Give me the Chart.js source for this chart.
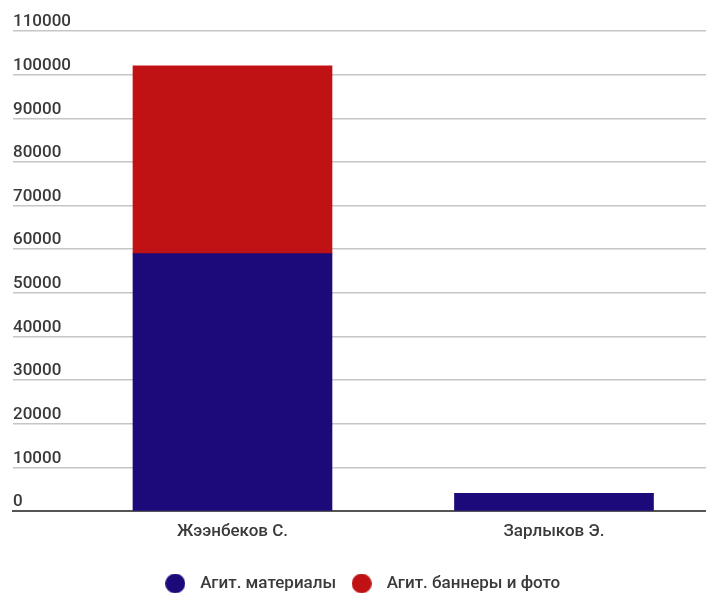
<!DOCTYPE html>
<html>
<head>
<meta charset="utf-8">
<script src="https://cdn.jsdelivr.net/npm/chart.js@4/dist/chart.umd.min.js"></script>
<style>
  html, body { margin: 0; padding: 0; background: #fff; overflow: hidden; }
  #wrap { position: relative; width: 706px; height: 593px; }
</style>
</head>
<body>
<div id="wrap"><canvas id="c"></canvas></div>
<script>
const categories = ['Жээнбеков С.', 'Зарлыков Э.'];
const seriesNames = ['Агит. материалы', 'Агит. баннеры и фото'];
const materials = [59000, 4100];
const banners = [43000, 0];
const yTicks = [0, 10000, 20000, 30000, 40000, 50000, 60000, 70000, 80000, 90000, 100000, 110000];
const colors = ['#1c0a7b', '#c01214'];

function dotCanvas(color) {
  const c = document.createElement('canvas');
  c.width = 20; c.height = 20;
  const g = c.getContext('2d');
  g.fillStyle = color;
  g.beginPath(); g.arc(10, 10, 10, 0, Math.PI * 2); g.fill();
  return c;
}
const dots = colors.map(dotCanvas);

const toPoints = arr => arr.map((v, i) => ({ x: i, y: v }));

const font = { family: 'Roboto', size: 17, weight: '500' };
const textColor = '#3a3a3a';

new Chart(document.getElementById('c'), {
  type: 'bar',
  data: {
    datasets: [
      { label: seriesNames[0], data: toPoints(materials), backgroundColor: colors[0], borderWidth: 0, barThickness: 199 },
      { label: seriesNames[1], data: toPoints(banners), backgroundColor: colors[1], borderWidth: 0, barThickness: 199 }
    ]
  },
  options: {
    responsive: true,
    maintainAspectRatio: false,
    animation: false,
    layout: { padding: { left: 13, right: 0, top: 31, bottom: -9 } },
    plugins: {
      tooltip: { enabled: false },
      legend: {
        position: 'bottom',
        labels: {
          font: font,
          color: textColor,
          usePointStyle: true,
          pointStyleWidth: 33,
          boxHeight: 17,
          padding: 9,
          generateLabels(chart) {
            const items = Chart.defaults.plugins.legend.labels.generateLabels(chart);
            items.forEach((it, i) => { it.pointStyle = dots[i]; });
            return items;
          }
        }
      }
    },
    scales: {
      x: {
        type: 'linear',
        stacked: true,
        offset: false,
        min: -0.6827,
        max: 1.4728,
        afterBuildTicks(scale) { scale.ticks = categories.map((_, i) => ({ value: i })); },
        afterFit(scale) { scale.height += 14.5; },
        ticks: {
          callback: v => categories[v],
          font: font,
          color: textColor,
          padding: 10,
          maxRotation: 0,
          autoSkip: false
        },
        grid: { display: false, drawTicks: false },
        border: { display: true, color: '#555', width: 2 }
      },
      y: {
        stacked: true,
        min: 0,
        max: 110000,
        afterBuildTicks(scale) { scale.ticks = yTicks.map(v => ({ value: v })); },
        ticks: {
          callback: v => String(v),
          mirror: true,
          padding: 0,
          labelOffset: -9,
          font: font,
          color: textColor
        },
        grid: { color: '#c6c6c6', lineWidth: 1.5, drawTicks: false },
        border: { display: false }
      }
    }
  }
});
</script>
</body>
</html>
